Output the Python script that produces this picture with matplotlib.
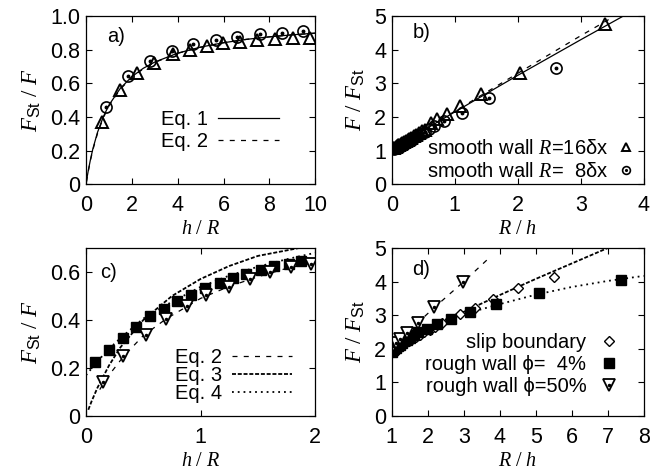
import matplotlib
matplotlib.use('Agg')
import matplotlib.pyplot as plt

# ---- panel a : F_St/F vs h/R ----
a_eq_x = [0.02, 0.05, 0.1, 0.2, 0.3, 0.5, 0.75, 1, 1.5, 2, 2.5, 3, 4, 5, 6, 7, 8, 9, 10]
a_eq1 = [0.017, 0.043, 0.082, 0.151, 0.211, 0.308, 0.400, 0.471, 0.571, 0.640, 0.690,
         0.727, 0.780, 0.816, 0.842, 0.862, 0.877, 0.889, 0.899]
a_eq2 = [0.015, 0.040, 0.078, 0.146, 0.205, 0.302, 0.393, 0.465, 0.566, 0.636, 0.687,
         0.725, 0.779, 0.815, 0.842, 0.862, 0.877, 0.889, 0.899]
a_tri_x = [0.68, 1.48, 2.21, 2.98, 3.81, 4.54, 5.27, 5.97, 6.72, 7.48, 8.25, 9.03, 9.78]
a_tri_y = [0.371, 0.56, 0.659, 0.722, 0.774, 0.80, 0.823, 0.841, 0.849, 0.859, 0.865, 0.871, 0.873]
a_circ_x = [0.87, 1.82, 2.79, 3.74, 4.69, 5.68, 6.60, 7.60, 8.55, 9.49]
a_circ_y = [0.46, 0.643, 0.734, 0.794, 0.833, 0.861, 0.877, 0.891, 0.902, 0.91]

# ---- panel b : F/F_St vs R/h ----
b_eq1_x = [0, 1, 2, 3, 3.7]
b_eq1 = [1.05, 2.15, 3.24, 4.30, 5.03]
b_eq2_x = [0, 1, 2, 3, 3.6]
b_eq2 = [1.05, 2.17, 3.30, 4.42, 5.07]
b_tri_x = [0.02, 0.04, 0.06, 0.08, 0.10, 0.12, 0.14, 0.16, 0.19, 0.22, 0.25, 0.28, 0.31,
           0.35, 0.39, 0.43, 0.48, 0.53, 0.62, 0.72, 0.88, 1.09, 1.41, 2.04, 3.38]
b_tri_y = [1.07, 1.09, 1.11, 1.14, 1.16, 1.18, 1.20, 1.22, 1.26, 1.29, 1.32, 1.35, 1.38,
           1.43, 1.47, 1.51, 1.57, 1.62, 1.83, 1.93, 2.09, 2.33, 2.68, 3.32, 4.76]
b_circ_x = [0.03, 0.06, 0.09, 0.12, 0.15, 0.18, 0.21, 0.25, 0.29, 0.33, 0.37, 0.42, 0.47,
            0.53, 0.59, 0.67, 0.83, 1.11, 1.55, 2.60]
b_circ_y = [1.06, 1.09, 1.12, 1.15, 1.18, 1.21, 1.24, 1.28, 1.32, 1.36, 1.40, 1.45, 1.50,
            1.56, 1.63, 1.73, 1.89, 2.13, 2.56, 3.45]

# ---- panel c : F_St/F vs h/R (rough walls) ----
c_eq2_x = [0.12, 0.15, 0.2, 0.33, 0.5, 0.7, 1.0, 1.25, 1.5, 1.75, 2.0]
c_eq2 = [0.11, 0.135, 0.17, 0.25, 0.335, 0.405, 0.49, 0.54, 0.58, 0.615, 0.64]
c_eq3_x = [0.02, 0.05, 0.1, 0.2, 0.3, 0.5, 0.75, 1.0, 1.25, 1.5, 1.86]
c_eq3 = [0.026, 0.063, 0.118, 0.21, 0.286, 0.40, 0.50, 0.571, 0.625, 0.667, 0.70]
c_eq4_x = [0.0, 0.1, 0.2, 0.3, 0.5, 0.75, 1.0, 1.25, 1.5, 1.75, 2.0]
c_eq4 = [0.17, 0.228, 0.28, 0.324, 0.406, 0.476, 0.538, 0.585, 0.622, 0.653, 0.68]
c_sq_x = [0.08, 0.20, 0.32, 0.44, 0.56, 0.68, 0.79, 0.92, 1.04, 1.17, 1.28, 1.40, 1.53,
          1.64, 1.77, 1.88]
c_sq_y = [0.225, 0.275, 0.324, 0.372, 0.415, 0.447, 0.481, 0.505, 0.533, 0.554, 0.577,
          0.593, 0.607, 0.623, 0.634, 0.645]
c_tri_x = [0.15, 0.32, 0.52, 0.70, 0.88, 1.05, 1.25, 1.43, 1.61, 1.79, 1.96]
c_tri_y = [0.143, 0.252, 0.336, 0.404, 0.457, 0.503, 0.538, 0.572, 0.60, 0.62, 0.635]

# ---- panel d : F/F_St vs R/h (rough walls) ----
d_eq2_x = [1.0, 1.5, 2.0, 2.5, 3.0, 3.5, 3.75]
d_eq2 = [2.05, 2.55, 3.05, 3.53, 4.0, 4.5, 4.75]
d_eq3_x = [1, 2, 3, 4, 5, 6, 7]
d_eq3 = [1.95, 2.55, 3.10, 3.60, 4.08, 4.54, 5.0]
d_eq4_x = [1, 1.5, 2, 2.5, 3, 4, 5, 6, 7, 8]
d_eq4 = [1.9, 2.3, 2.6, 2.83, 3.03, 3.33, 3.61, 3.84, 4.02, 4.17]
d_dia_x = [1.02, 1.06, 1.10, 1.15, 1.20, 1.26, 1.33, 1.40, 1.48, 1.57, 1.67, 1.78, 1.90,
           2.05, 2.20, 2.40, 2.62, 2.90, 3.32, 3.80, 4.50, 5.50]
d_dia_y = [1.96, 1.99, 2.01, 2.04, 2.07, 2.11, 2.15, 2.19, 2.24, 2.29, 2.35, 2.42, 2.49,
           2.57, 2.65, 2.76, 2.88, 3.04, 3.22, 3.47, 3.80, 4.15]
d_sq_x = [1.0, 1.03, 1.07, 1.11, 1.16, 1.22, 1.28, 1.35, 1.43, 1.52, 1.62, 1.74, 1.97,
          2.25, 2.65, 3.18, 3.90, 5.10, 7.38]
d_sq_y = [1.92, 1.95, 1.99, 2.03, 2.07, 2.12, 2.17, 2.22, 2.27, 2.33, 2.40, 2.49, 2.59,
          2.74, 2.89, 3.11, 3.34, 3.67, 4.06]
d_tri_x = [1.04, 1.11, 1.23, 1.42, 1.72, 2.16, 2.98]
d_tri_y = [2.09, 2.17, 2.29, 2.47, 2.77, 3.24, 3.98]

plt.rcParams.update({
    'font.family': ['Liberation Sans', 'DejaVu Sans'],
    'font.size': 14.5,
    'mathtext.fontset': 'custom',
    'mathtext.rm': 'Liberation Serif',
    'mathtext.it': 'Liberation Serif:italic',
    'mathtext.sf': 'Liberation Sans',
    'axes.linewidth': 0.9,
    'xtick.direction': 'in', 'ytick.direction': 'in',
    'xtick.top': True, 'ytick.right': True,
    'xtick.major.size': 4, 'ytick.major.size': 4,
    'xtick.major.width': 0.8, 'ytick.major.width': 0.8,
    'xtick.major.pad': 8, 'ytick.major.pad': 4,
    'xtick.labelsize': 15.5, 'ytick.labelsize': 15.5,
    'lines.linewidth': 0.9,
})

K = 'black'
fig = plt.figure(figsize=(6.72, 4.76), dpi=100)
ax_a = fig.add_axes([0.128, 0.613, 0.341, 0.353])
ax_b = fig.add_axes([0.583, 0.613, 0.375, 0.353])
ax_c = fig.add_axes([0.128, 0.126, 0.341, 0.353])
ax_d = fig.add_axes([0.583, 0.126, 0.375, 0.353])

lab_F = r'$F_{\mathsf{St}}\ /\ F$'
lab_Fi = r'$F\ /\ F_{\mathsf{St}}$'
lab_hR = r'$h\ /\ R$'
lab_Rh = r'$R\ /\ h$'
XL = dict(fontsize=14.5, labelpad=2)
YL = dict(fontsize=16.5, labelpad=5)

# a)
ax_a.plot(a_eq_x, a_eq1, color=K, lw=0.9, label='Eq. 1')
ax_a.plot(a_eq_x, a_eq2, color=K, lw=0.9, ls=(0, (4, 5)), label='Eq. 2')
ax_a.plot(a_tri_x, a_tri_y, ls='none', marker='^', ms=8, mfc='none', mec=K, mew=1.4)
ax_a.plot(a_circ_x, a_circ_y, ls='none', marker='o', ms=8, mfc='none', mec=K, mew=1.2)
ax_a.plot(a_circ_x, a_circ_y, ls='none', marker='o', ms=1.8, color=K)
ax_a.set_xlim(0, 10)
ax_a.set_ylim(0, 1)
ax_a.set_xticks([0, 2, 4, 6, 8, 10])
ax_a.set_yticks([0, 0.2, 0.4, 0.6, 0.8, 1.0], ['0', '0.2', '0.4', '0.6', '0.8', '1.0'])
ax_a.set_xlabel(lab_hR, **XL)
ax_a.set_ylabel(lab_F, **YL)
ax_a.text(0.09, 0.88, 'a)', transform=ax_a.transAxes, va='center')
ax_a.legend(loc='lower right', bbox_to_anchor=(0.84, 0.2), frameon=False, markerfirst=False,
            handlelength=3.0, handletextpad=0.5, labelspacing=0.15, borderaxespad=0,
            borderpad=0)

# b)
ax_b.plot(b_eq1_x, b_eq1, color=K, lw=0.9)
ax_b.plot(b_eq2_x, b_eq2, color=K, lw=0.9, ls=(0, (4, 5)))
tri_b, = ax_b.plot(b_tri_x, b_tri_y, ls='none', marker='^', ms=8, mfc='none', mec=K, mew=1.4)
circ_b, = ax_b.plot(b_circ_x, b_circ_y, ls='none', marker='o', ms=8, mfc='none', mec=K, mew=1.2)
dot_b, = ax_b.plot(b_circ_x, b_circ_y, ls='none', marker='o', ms=1.8, color=K)
ax_b.set_xlim(0, 4)
ax_b.set_ylim(0, 5)
ax_b.set_xticks([0, 1, 2, 3, 4])
ax_b.set_yticks([0, 1, 2, 3, 4, 5])
ax_b.set_xlabel(lab_Rh, **XL)
ax_b.set_ylabel(lab_Fi, **YL)
ax_b.text(0.082, 0.9, 'b)', transform=ax_b.transAxes, va='center')
ax_b.legend([tri_b, (circ_b, dot_b)],
            [r'smooth wall $R$=16δx', r'smooth wall $R$=  8δx'],
            loc='lower right', bbox_to_anchor=(0.97, 0.02), frameon=False, markerfirst=False,
            handlelength=1.0, handletextpad=0.4, labelspacing=0.2, borderaxespad=0,
            borderpad=0, markerscale=0.7)

# c)
ax_c.plot(c_eq2_x, c_eq2, color=K, lw=0.9, ls=(0, (4, 5)), label='Eq. 2')
ax_c.plot(c_eq3_x, c_eq3, color=K, lw=1.3, ls=(0, (2.2, 1.0)), label='Eq. 3')
ax_c.plot(c_eq4_x, c_eq4, color=K, lw=1.3, ls=(0, (1, 2.2)), label='Eq. 4')
ax_c.plot(c_sq_x, c_sq_y, ls='none', marker='s', ms=7, color=K)
ax_c.plot(c_tri_x, c_tri_y, ls='none', marker='v', ms=8, mfc='white', mec=K, mew=1.3)
ax_c.plot(c_tri_x, c_tri_y, ls='none', marker='o', ms=1.5, color=K)
ax_c.set_xlim(0, 2)
ax_c.set_ylim(0, 0.7)
ax_c.set_xticks([0, 1, 2])
ax_c.set_yticks([0, 0.2, 0.4, 0.6], ['0', '0.2', '0.4', '0.6'])
ax_c.set_xlabel(lab_hR, **XL)
ax_c.set_ylabel(lab_F, **YL)
ax_c.text(0.06, 0.855, 'c)', transform=ax_c.transAxes, va='center')
ax_c.legend(loc='lower right', bbox_to_anchor=(0.90, 0.08), frameon=False, markerfirst=False,
            handlelength=3.0, handletextpad=0.5, labelspacing=-0.05, borderaxespad=0,
            borderpad=0)

# d)
ax_d.plot(d_eq2_x, d_eq2, color=K, lw=0.9, ls=(0, (4, 5)))
ax_d.plot(d_eq3_x, d_eq3, color=K, lw=1.3, ls=(0, (2.2, 1.0)))
ax_d.plot(d_eq4_x, d_eq4, color=K, lw=1.3, ls=(0, (1, 2.2)))
dia_d, = ax_d.plot(d_dia_x, d_dia_y, ls='none', marker='D', ms=5, mfc='white', mec=K, mew=1.0)
sq_d, = ax_d.plot(d_sq_x, d_sq_y, ls='none', marker='s', ms=7, color=K)
tri_d, = ax_d.plot(d_tri_x, d_tri_y, ls='none', marker='v', ms=8, mfc='white', mec=K, mew=1.3)
tdot_d, = ax_d.plot(d_tri_x, d_tri_y, ls='none', marker='o', ms=1.5, color=K)
ax_d.set_xlim(1, 8)
ax_d.set_ylim(0, 5)
ax_d.set_xticks([1, 2, 3, 4, 5, 6, 7, 8])
ax_d.set_yticks([0, 1, 2, 3, 4, 5])
ax_d.set_xlabel(lab_Rh, **XL)
ax_d.set_ylabel(lab_Fi, **YL)
ax_d.text(0.082, 0.873, 'd)', transform=ax_d.transAxes, va='center')
ax_d.legend([dia_d, sq_d, (tri_d, tdot_d)],
            ['slip boundary', 'rough wall ϕ=  4%', 'rough wall ϕ=50%'],
            loc='lower right', bbox_to_anchor=(0.90, 0.12), frameon=False, markerfirst=False,
            handlelength=1.0, handletextpad=0.6, labelspacing=0.15, borderaxespad=0,
            borderpad=0)

fig.savefig('out.png', dpi=100)
